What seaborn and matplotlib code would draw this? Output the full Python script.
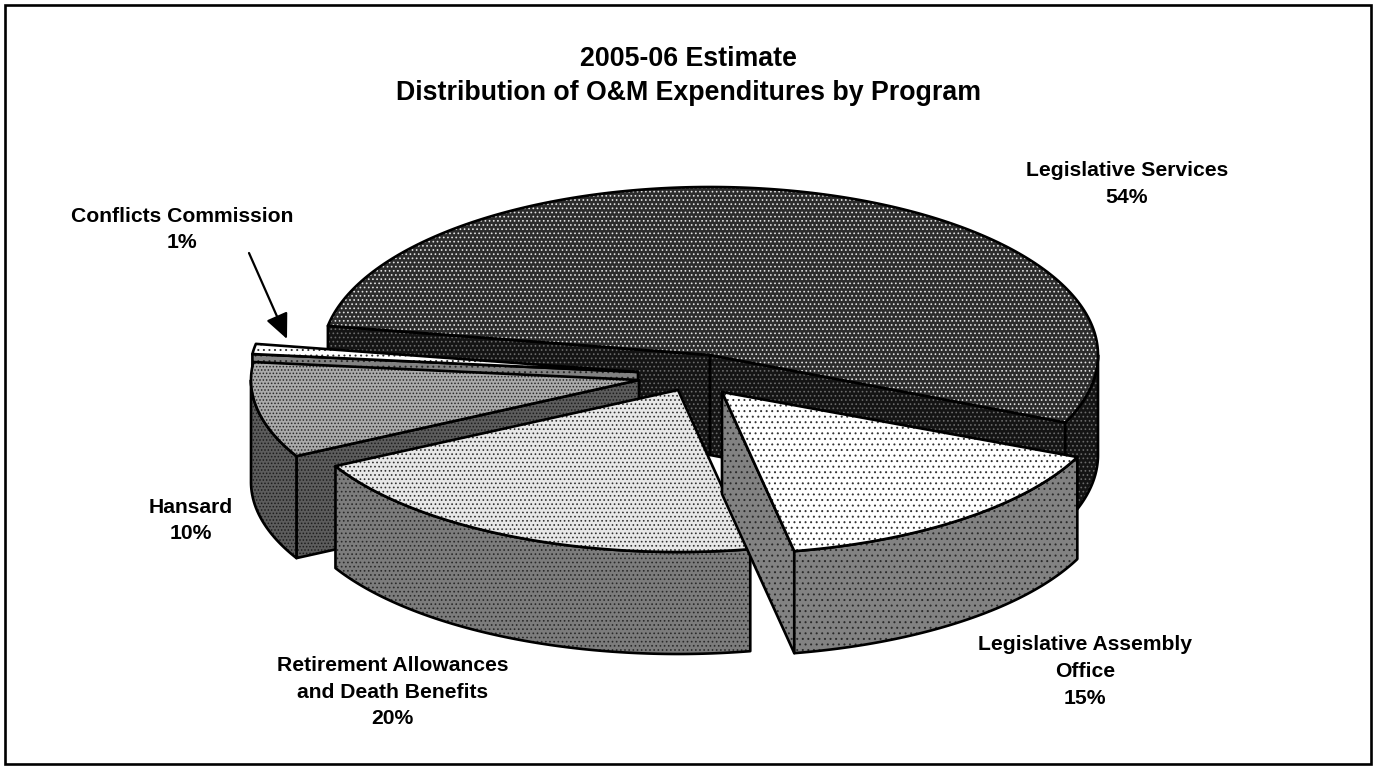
import numpy as np
import matplotlib
matplotlib.use("Agg")
import matplotlib.pyplot as plt
from matplotlib.patches import Polygon, Rectangle
import seaborn as sns

# ---- data ----
title_lines = ["2005-06 Estimate", "Distribution of O&M Expenditures by Program"]
programs = ["Legislative Services", "Legislative Assembly\nOffice",
            "Retirement Allowances\nand Death Benefits", "Hansard", "Conflicts Commission"]
shares = [53.8, 15.44, 20.2, 9.55, 1.01]

# ---- layout and style (pixels of the 1376x766 canvas) ----
start_angle = 170.0
centre = (710, 355)
rx = 388
ry = [168, 162, 162, 162, 162]
depth = [100, 102, 102, 102, 102]
explode_x = [0, 12, -32, -71, -72]
explode_y = [0, 37, 35, 25, 17]
draw_order = [0, 4, 3, 2, 1]
# (face colour, dot colour, hatch)
top_style = [("#2c2c2c", "#e0e0e0", "...."), ("#ffffff", "#333333", "..."),
             ("#e8e8e8", "#333333", "...."), ("#aaaaaa", "#2a2a2a", "....."),
             ("#ffffff", "#333333", "...")]
wall_style = [("#141414", "#6a6a6a", "...."), ("#828282", "#2a2a2a", "..."),
              ("#7c7c7c", "#2a2a2a", "...."), ("#5c5c5c", "#1c1c1c", "....."),
              ("#828282", "#2a2a2a", "...")]
label_xy = [(1127, 184), (1085, 671.5), (392.5, 692), (190.5, 520.5), (182, 229.5)]

sns.set_theme(style="white")
plt.rcParams["font.family"] = ["Liberation Sans", "DejaVu Sans"]
plt.rcParams["hatch.linewidth"] = 0.7

fig = plt.figure(figsize=(13.76, 7.66), dpi=100, facecolor="white")
ax = fig.add_axes([0, 0, 1, 1])
ax.set_xlim(0, 1376)
ax.set_ylim(766, 0)
ax.axis("off")
sns.despine(ax=ax, left=True, bottom=True)


def rim(cx, cy, ry_i, a0, a1):
    t = np.radians(np.linspace(a0, a1, max(int(abs(a1 - a0)) * 2, 2)))
    return np.column_stack([cx + rx * np.cos(t), cy - ry_i * np.sin(t)])


def face(pts, style):
    fc, dot, hatch = style
    ax.add_patch(Polygon(pts, closed=True, facecolor=fc, edgecolor=dot, hatch=hatch, linewidth=0))
    ax.add_patch(Polygon(pts, closed=True, fill=False, edgecolor="black", linewidth=1.9, joinstyle="round"))


edges = start_angle - np.cumsum([0] + shares) * 3.6
for i in draw_order:
    a0, a1 = edges[i], edges[i + 1]
    cx, cy = centre[0] + explode_x[i], centre[1] + explode_y[i]
    drop = np.array([0, depth[i]])
    apex = np.array([[cx, cy]])
    # cut faces that look towards the viewer
    for ang, visible in ((a0, np.cos(np.radians(a0)) < 0), (a1, np.cos(np.radians(a1)) > 0)):
        if visible:
            p = rim(cx, cy, ry[i], ang, ang)[:1]
            face(np.vstack([apex, p, p + drop, apex + drop]), wall_style[i])
    # outer wall: only the front half of the rim
    lo, hi = max(a1, -180.0), min(a0, 0.0)
    if hi > lo:
        arc = rim(cx, cy, ry[i], hi, lo)
        face(np.vstack([arc, (arc + drop)[::-1]]), wall_style[i])
    # top
    face(np.vstack([apex, rim(cx, cy, ry[i], a0, a1)]), top_style[i])

# frame
ax.add_patch(Rectangle((5, 5), 1366, 759, fill=False, edgecolor="black", linewidth=1.9))

# title
ax.text(688, 76, "\n".join(title_lines), ha="center", va="center", ma="center",
        fontsize=19.3, fontweight="bold", color="black", linespacing=1.39)

# labels
for name, share, (lx, ly) in zip(programs, shares, label_xy):
    ax.text(lx, ly, f"{name}\n{round(share)}%", ha="center", va="center", ma="center",
            fontsize=15.2, fontweight="bold", color="black", linespacing=1.5)

# arrow to the smallest slice
ax.annotate("", xy=(287, 339), xytext=(249, 253),
            arrowprops=dict(arrowstyle="-|>,head_length=1.1,head_width=0.5", color="black",
                            lw=1.6, shrinkA=0, shrinkB=0, mutation_scale=14))

fig.savefig("out.png", dpi=100)
